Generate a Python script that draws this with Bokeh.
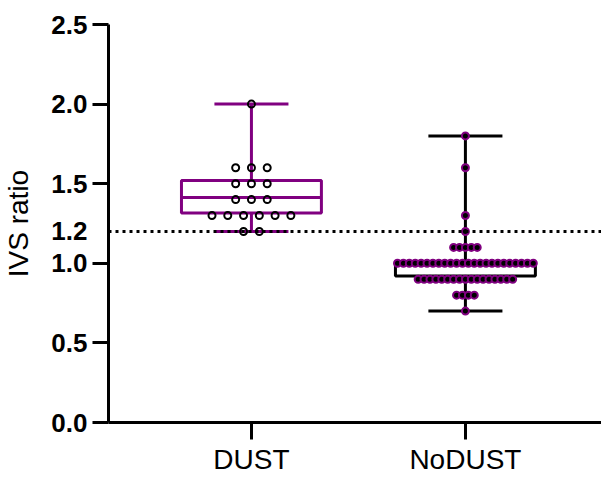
from bokeh.plotting import figure
from bokeh.models import FixedTicker, LinearAxis, Span
from bokeh.embed import file_html
from bokeh.resources import INLINE

# ---- data ----
categories = ["DUST", "NoDUST"]
cat_pos = [1, 2]

dust_values = [2.0,
               1.6, 1.6, 1.6,
               1.5, 1.5, 1.5,
               1.4, 1.4, 1.4,
               1.3, 1.3, 1.3, 1.3, 1.3, 1.3,
               1.2, 1.2]

nodust_values = [1.8, 1.6, 1.3, 1.2,
                 1.1, 1.1, 1.1, 1.1, 1.1,
                 1.0, 1.0, 1.0, 1.0, 1.0, 1.0, 1.0, 1.0, 1.0, 1.0, 1.0, 1.0,
                 1.0, 1.0, 1.0, 1.0, 1.0, 1.0, 1.0, 1.0, 1.0, 1.0, 1.0, 1.0,
                 0.9, 0.9, 0.9, 0.9, 0.9, 0.9, 0.9, 0.9, 0.9, 0.9, 0.9, 0.9,
                 0.9, 0.9, 0.9, 0.9, 0.9,
                 0.8, 0.8, 0.8, 0.8,
                 0.7]

# box statistics (min, q1, median, q3, max)
box_min = [1.2, 0.7]
box_q1 = [1.316, 0.92]
box_med = [1.413, 1.0]
box_q3 = [1.52, 1.0]
box_max = [2.0, 1.8]

threshold = 1.2
y_ticks = [0, 0.5, 1.0, 1.5, 2.0, 2.5]
y_label_ticks = [0, 0.5, 1.0, 1.2, 1.5, 2.0, 2.5]

# ---- styles ----
PURPLE = "#800080"
box_colors = [PURPLE, "black"]
box_half = 0.327
cap_half = 0.173
spacing = [0.0737, 0.0276]

x_start, x_end = 0.332, 2.636

p = figure(width=601, height=478, x_range=(x_start, x_end), y_range=(0, 2.5),
           output_backend="svg", toolbar_location=None,
           min_border_left=101, min_border_right=0, min_border_top=24,
           min_border_bottom=56)
p.grid.visible = False
p.outline_line_color = None
p.background_fill_color = "white"

# threshold dotted line
p.add_layout(Span(location=threshold, dimension="width", line_color="black",
                  line_width=3, line_dash="3 4"))

# boxes, whiskers, caps
for i in range(2):
    c = cat_pos[i]
    col = box_colors[i]
    p.quad(left=c - box_half, right=c + box_half, bottom=box_q1[i], top=box_q3[i],
           fill_alpha=0, line_color=col, line_width=3)
    p.segment(x0=c - box_half, x1=c + box_half, y0=box_med[i], y1=box_med[i],
              line_color=col, line_width=3)
    p.segment(x0=c, x1=c, y0=box_q3[i], y1=box_max[i], line_color=col, line_width=3)
    p.segment(x0=c, x1=c, y0=box_min[i], y1=box_q1[i], line_color=col, line_width=3)
    p.segment(x0=c - cap_half, x1=c + cap_half, y0=box_max[i], y1=box_max[i],
              line_color=col, line_width=3)
    p.segment(x0=c - cap_half, x1=c + cap_half, y0=box_min[i], y1=box_min[i],
              line_color=col, line_width=3)


def swarm(values, center, step):
    xs, ys = [], []
    rows = {}
    for v in values:
        rows.setdefault(v, 0)
        rows[v] += 1
    for v, n in rows.items():
        for k in range(n):
            xs.append(center + (k - (n - 1) / 2) * step)
            ys.append(v)
    return xs, ys


dx, dy = swarm(dust_values, cat_pos[0], spacing[0])
p.scatter(dx, dy, size=7, fill_alpha=0, line_color="black", line_width=2)

nx, ny = swarm(nodust_values, cat_pos[1], spacing[1])
p.scatter(nx, ny, size=7, fill_color="black", line_color=PURPLE, line_width=2)

# axes
FONT = "Liberation Sans"
p.xaxis.ticker = FixedTicker(ticks=cat_pos)
p.xaxis.major_label_overrides = {cat_pos[i]: categories[i] for i in range(2)}
p.xaxis.major_label_text_font = FONT
p.xaxis.major_label_text_font_size = "28px"
p.xaxis.major_label_text_color = "black"
p.xaxis.major_label_standoff = 4
p.xaxis.major_tick_out = 17
p.xaxis.major_tick_in = 0
p.xaxis.minor_tick_line_color = None

# inner y axis: line and tick marks only (labels not drawn)
p.yaxis.ticker = FixedTicker(ticks=y_ticks)
p.yaxis.major_label_text_color = None
p.yaxis.major_label_standoff = 0
p.yaxis.major_tick_out = 16
p.yaxis.major_tick_in = 0
p.yaxis.minor_tick_line_color = None

for ax in (p.xaxis, p.yaxis):
    ax.axis_line_width = 3
    ax.axis_line_color = "black"
    ax.major_tick_line_width = 3
    ax.major_tick_line_color = "black"

# outer y axis: tick labels (including the 1.2 threshold) and title
lab_axis = LinearAxis(ticker=FixedTicker(ticks=y_label_ticks))
lab_axis.major_label_overrides = {t: f"{t:.1f}" for t in y_label_ticks}
lab_axis.axis_line_color = None
lab_axis.major_tick_line_color = None
lab_axis.minor_tick_line_color = None
lab_axis.major_tick_out = 0
lab_axis.major_tick_in = 0
lab_axis.major_label_standoff = 5
lab_axis.major_label_text_font = FONT
lab_axis.major_label_text_font_size = "26px"
lab_axis.major_label_text_font_style = "bold"
lab_axis.major_label_text_color = "black"
lab_axis.axis_label = "IVS ratio"
lab_axis.axis_label_text_font = FONT
lab_axis.axis_label_text_font_size = "28px"
lab_axis.axis_label_text_font_style = "normal"
lab_axis.axis_label_text_color = "black"
lab_axis.axis_label_standoff = 14
p.add_layout(lab_axis, "left")

open("out.html", "w").write(file_html(p, INLINE))
